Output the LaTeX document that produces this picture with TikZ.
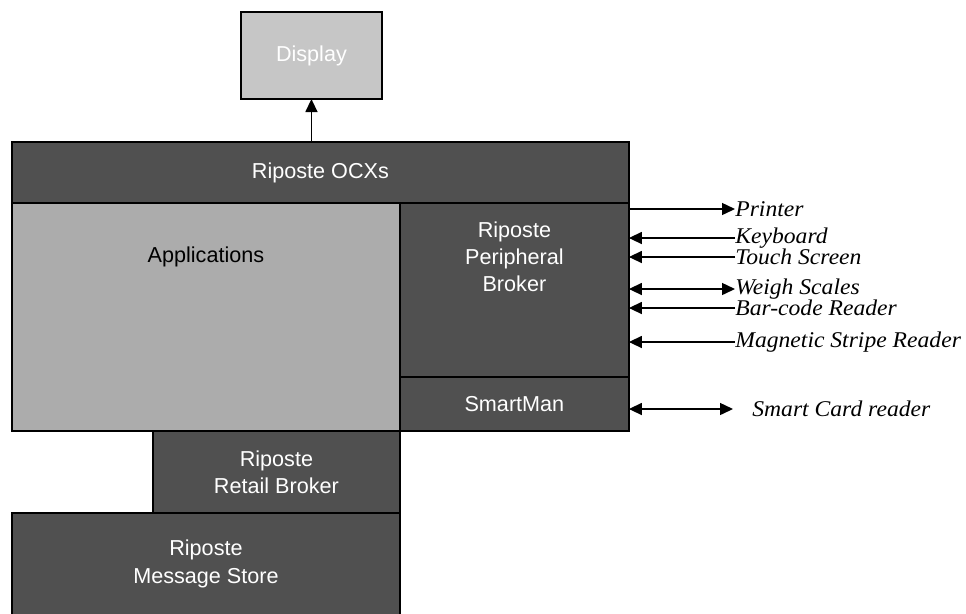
\documentclass[tikz,border=0pt]{standalone}
\usepackage{fontspec}
\setmainfont{Liberation Sans}
\newfontfamily\devicefont[FakeStretch=1.05]{Liberation Serif}
\usetikzlibrary{positioning, arrows.meta}
\definecolor{layergray}{RGB}{80,80,80}
\definecolor{appgray}{RGB}{172,172,172}
\definecolor{displaygray}{RGB}{198,198,198}

\begin{document}
\begin{tikzpicture}[
    x=0.02cm, y=-0.02cm,
    layer/.style={draw, line width=1.1pt, fill=layergray, text=white,
                  outer sep=0pt, inner sep=0pt, align=center,
                  font=\fontsize{12.3}{15.5}\selectfont},
    lightlayer/.style={layer, fill=appgray, text=black},
    device/.style={anchor=west, inner sep=0pt,
                   font=\devicefont\itshape\fontsize{12.8}{15}\selectfont},
    arr/.style={-{Triangle[length=0.26cm, width=0.24cm]}, line width=0.8pt},
    barr/.style={{Triangle[length=0.26cm, width=0.24cm]}-{Triangle[length=0.26cm, width=0.24cm]},
                 line width=0.8pt},
  ]
  \useasboundingbox (0,0) rectangle (966,613);

  % Layer stack
  \node[layer, anchor=north west, minimum width=12.34cm,
        minimum height=1.22cm] (ocx) at (12,142) {Riposte OCXs};
  \node[lightlayer, below=0pt of ocx.south west, anchor=north west,
        minimum width=7.76cm, minimum height=4.56cm] (apps) {};
  \node[layer, right=0pt of apps.north east, anchor=north west,
        minimum width=4.58cm, minimum height=3.48cm] (peri) {};
  \node[layer, below=0pt of peri.south west, anchor=north west,
        minimum width=4.58cm, minimum height=1.08cm] (smart) {SmartMan};
  \node[layer, below=0pt of apps.south east, anchor=north east,
        minimum width=4.94cm, minimum height=1.64cm] (retail) {Riposte\\Retail Broker};
  \node[layer, below=0pt of retail.south east, anchor=north east,
        minimum width=7.76cm, minimum height=2.04cm] (store) {Riposte\\Message Store};

  % Labels sitting high in their boxes
  \node[font=\fontsize{12.3}{15.5}\selectfont] (appstext)
    at ([yshift=-1.08cm]apps.north) {Applications};
  \node[font=\fontsize{12.3}{15.5}\selectfont, text=white, align=center] (peritext)
    at ([yshift=-1.08cm]peri.north) {Riposte\\Peripheral\\Broker};

  % Display on top
  \node[lightlayer, fill=displaygray, text=white, above=0.86cm of ocx,
        xshift=-0.18cm, minimum width=2.82cm, minimum height=1.74cm] (disp) {Display};
  \draw[arr] (disp.south |- ocx.north) -- (disp.south);

  % Peripherals
  \node[device] (printer) at (735,209) {Printer};
  \node[device] (kbd) at (735,238) {Keyboard};
  \node[device] (touch) at (735,257) {Touch Screen};
  \node[device] (scales) at (735,289) {Weigh Scales};
  \node[device] (barcode) at (735,308) {Bar-code Reader};
  \node[device] (magstripe) at (735,342) {Magnetic Stripe Reader};
  \node[device] (card) at (752,409) {Smart Card reader};

  \draw[arr] (peri.east |- printer.west) -- (printer.west);
  \foreach \d in {kbd,touch,barcode,magstripe}
    \draw[arr] (\d.west) -- (peri.east |- \d.west);
  \draw[barr] (peri.east |- scales.west) -- (scales.west);
  \draw[barr] (smart.east |- card.west) -- ([xshift=-0.38cm]card.west);

\end{tikzpicture}
\end{document}
